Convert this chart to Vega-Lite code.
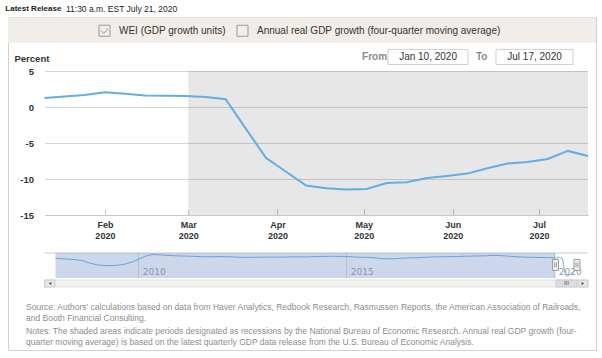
{
  "$schema": "https://vega.github.io/schema/vega-lite/v6.json",
  "autosize": {"type": "none"},
  "padding": {"left": 8, "top": 17, "right": 6, "bottom": 8},
  "width": 588,
  "height": 333,
  "background": "#ffffff",
  "config": {
    "font": "Liberation Sans",
    "view": {"stroke": "#d2d2d2", "strokeWidth": 1}
  },
  "resolve": {"scale": {"x": "independent", "y": "independent"}, "axis": {"x": "independent", "y": "independent"}},
  "layer": [
    {
      "layer": [
        {
          "data": {"values": [{}]},
          "mark": {"type": "rect", "fill": "#f1eeea"},
          "encoding": {
            "y": {"datum": 12.43, "type": "quantitative"},
            "y2": {"datum": 8.89}
          }
        },
        {
          "data": {"values": [{}]},
          "mark": {"type": "text", "align": "left", "baseline": "middle", "fontSize": 8, "fontWeight": "bold", "color": "#222"},
          "encoding": {
            "x": {"datum": {"year": 2019, "month": 12, "date": 28, "hours": 9, "utc": true}, "type": "temporal"},
            "y": {"datum": 13.61, "type": "quantitative"},
            "text": {"value": "Latest Release"}
          }
        },
        {
          "data": {"values": [{}]},
          "mark": {"type": "text", "align": "left", "baseline": "middle", "fontSize": 8.5, "color": "#222"},
          "encoding": {
            "x": {"datum": {"year": 2020, "month": 1, "date": 18, "hours": 11, "utc": true}, "type": "temporal"},
            "y": {"datum": 13.61, "type": "quantitative"},
            "text": {"value": "11:30 a.m. EST July 21, 2020"}
          }
        },
        {
          "data": {"values": []},
          "mark": {"type": "point", "opacity": 1, "strokeWidth": 1},
          "encoding": {
            "color": {
              "field": "series", "type": "nominal",
              "scale": {"domain": ["WEI (GDP growth units)", "Annual real GDP growth (four-quarter moving average)"], "range": ["#9a9a9a", "#9a9a9a"]},
              "legend": {
                "orient": "none", "legendX": 90.5, "legendY": 7.5, "direction": "horizontal", "columns": 2, "title": null,
                "symbolSize": 121, "symbolStrokeWidth": 1, "symbolFillColor": "#ffffff",
                "labelFontSize": 10, "labelColor": "#333", "labelLimit": 400,
                "labelOffset": 8.5, "columnPadding": 8, "padding": 0,
                "encode": {
                  "symbols": {
                    "update": {
                      "fill": {"value": "#ffffff"},
                      "stroke": {"value": "#9a9a9a"},
                      "strokeWidth": {"value": 1},
                      "opacity": {"value": 1}
                    }
                  }
                }
              }
            },
            "shape": {
              "field": "series", "type": "nominal",
              "scale": {"domain": ["WEI (GDP growth units)", "Annual real GDP growth (four-quarter moving average)"], "range": ["M-1,-1H1V1H-1Z M-0.6,0L-0.15,0.5L0.65,-0.45", "M-1,-1H1V1H-1Z"]},
              "legend": {
                "orient": "none", "legendX": 90.5, "legendY": 7.5, "direction": "horizontal", "columns": 2, "title": null,
                "symbolSize": 121, "symbolStrokeWidth": 1, "symbolFillColor": "#ffffff",
                "labelFontSize": 10, "labelColor": "#333", "labelLimit": 400,
                "labelOffset": 8.5, "columnPadding": 8, "padding": 0,
                "encode": {
                  "symbols": {
                    "update": {
                      "fill": {"value": "#ffffff"},
                      "stroke": {"value": "#9a9a9a"},
                      "strokeWidth": {"value": 1},
                      "opacity": {"value": 1}
                    }
                  }
                }
              }
            }
          }
        },
        {
          "data": {"values": [{}]},
          "mark": {"type": "text", "align": "left", "baseline": "middle", "fontSize": 10, "fontWeight": "bold", "color": "#8a8a8a"},
          "encoding": {
            "x": {"datum": {"year": 2020, "month": 4, "date": 30, "hours": 10, "utc": true}, "type": "temporal"},
            "y": {"datum": 6.95, "type": "quantitative"},
            "text": {"value": "From"}
          }
        },
        {
          "data": {"values": [{}]},
          "mark": {"type": "rect", "fill": "#ffffff", "stroke": "#cfcfcf", "strokeWidth": 1},
          "encoding": {
            "x": {"datum": {"year": 2020, "month": 5, "date": 9, "hours": 11, "utc": true}, "type": "temporal"},
            "x2": {"datum": {"year": 2020, "month": 6, "date": 6, "hours": 6, "utc": true}},
            "y": {"datum": 8.0, "type": "quantitative"},
            "y2": {"datum": 5.9}
          }
        },
        {
          "data": {"values": [{}]},
          "mark": {"type": "text", "align": "center", "baseline": "middle", "fontSize": 10, "color": "#333"},
          "encoding": {
            "x": {"datum": {"year": 2020, "month": 5, "date": 23, "hours": 9, "utc": true}, "type": "temporal"},
            "y": {"datum": 6.95, "type": "quantitative"},
            "text": {"value": "Jan 10, 2020"}
          }
        },
        {
          "data": {"values": [{}]},
          "mark": {"type": "text", "align": "left", "baseline": "middle", "fontSize": 10, "fontWeight": "bold", "color": "#8a8a8a"},
          "encoding": {
            "x": {"datum": {"year": 2020, "month": 6, "date": 9, "hours": 1, "utc": true}, "type": "temporal"},
            "y": {"datum": 6.95, "type": "quantitative"},
            "text": {"value": "To"}
          }
        },
        {
          "data": {"values": [{}]},
          "mark": {"type": "rect", "fill": "#ffffff", "stroke": "#cfcfcf", "strokeWidth": 1},
          "encoding": {
            "x": {"datum": {"year": 2020, "month": 6, "date": 16, "hours": 0, "utc": true}, "type": "temporal"},
            "x2": {"datum": {"year": 2020, "month": 7, "date": 12, "hours": 19, "utc": true}},
            "y": {"datum": 8.0, "type": "quantitative"},
            "y2": {"datum": 5.9}
          }
        },
        {
          "data": {"values": [{}]},
          "mark": {"type": "text", "align": "center", "baseline": "middle", "fontSize": 10, "color": "#333"},
          "encoding": {
            "x": {"datum": {"year": 2020, "month": 6, "date": 29, "hours": 10, "utc": true}, "type": "temporal"},
            "y": {"datum": 6.95, "type": "quantitative"},
            "text": {"value": "Jul 17, 2020"}
          }
        },
        {
          "data": {"values": [{"start": "2020-03-01", "end": "2020-07-18"}]},
          "mark": {"type": "rect", "fill": "#000000", "opacity": 0.095},
          "encoding": {
            "x": {"field": "start", "type": "temporal"},
            "x2": {"field": "end"},
            "y": {"datum": 5, "type": "quantitative"},
            "y2": {"datum": -15}
          }
        },
        {
          "data": {"values": [
            {"date": "2020-01-11", "value": 1.25},
            {"date": "2020-01-18", "value": 1.45},
            {"date": "2020-01-25", "value": 1.67},
            {"date": "2020-02-01", "value": 2.04},
            {"date": "2020-02-08", "value": 1.85},
            {"date": "2020-02-15", "value": 1.6},
            {"date": "2020-02-22", "value": 1.56},
            {"date": "2020-02-29", "value": 1.52},
            {"date": "2020-03-07", "value": 1.4},
            {"date": "2020-03-14", "value": 1.07},
            {"date": "2020-03-21", "value": -3.0},
            {"date": "2020-03-28", "value": -7.07},
            {"date": "2020-04-04", "value": -9.0},
            {"date": "2020-04-11", "value": -10.9},
            {"date": "2020-04-18", "value": -11.3},
            {"date": "2020-04-25", "value": -11.45},
            {"date": "2020-05-02", "value": -11.39},
            {"date": "2020-05-09", "value": -10.55},
            {"date": "2020-05-16", "value": -10.46},
            {"date": "2020-05-23", "value": -9.86},
            {"date": "2020-05-30", "value": -9.58},
            {"date": "2020-06-06", "value": -9.25},
            {"date": "2020-06-13", "value": -8.5},
            {"date": "2020-06-20", "value": -7.86},
            {"date": "2020-06-27", "value": -7.64},
            {"date": "2020-07-04", "value": -7.22},
            {"date": "2020-07-11", "value": -6.1},
            {"date": "2020-07-18", "value": -6.8}
          ]},
          "mark": {"type": "line", "strokeWidth": 2, "interpolate": "linear", "color": "#62aee2"},
          "encoding": {
            "x": {
              "field": "date", "type": "temporal",
              "scale": {"type": "utc", "nice": false, "domain": [{"year": 2020, "month": 1, "date": 11, "utc": true}, {"year": 2020, "month": 7, "date": 18, "utc": true}], "range": [36.5, 580]},
              "axis": {
                "orient": "bottom", "offset": -135, "title": null, "grid": false,
                "values": [
                  {"year": 2020, "month": 2, "date": 1, "utc": true},
                  {"year": 2020, "month": 3, "date": 1, "utc": true},
                  {"year": 2020, "month": 4, "date": 1, "utc": true},
                  {"year": 2020, "month": 5, "date": 1, "utc": true},
                  {"year": 2020, "month": 6, "date": 1, "utc": true},
                  {"year": 2020, "month": 7, "date": 1, "utc": true}
                ],
                "labelExpr": "[utcFormat(datum.value, '%b'), utcFormat(datum.value, '%Y')]",
                "domainColor": "#c8c8c8", "tickColor": "#c8c8c8", "tickSize": -6, "labelPadding": 11.5,
                "labelFontSize": 9, "labelFontWeight": "bold", "labelColor": "#333", "labelLineHeight": 11, "labelBaseline": "top"
              }
            },
            "y": {
              "field": "value", "type": "quantitative",
              "scale": {"domain": [-15, 5], "range": [198, 54], "nice": false, "zero": false},
              "axis": {
                "orient": "left", "offset": -36.5, "values": [-15, -10, -5, 0, 5],
                "labelExpr": "toString(datum.value)",
                "grid": true, "gridColor": "#d6d6d6", "domain": false, "ticks": false, "labelPadding": 11,
                "labelFontSize": 9.5, "labelFontWeight": "bold", "labelColor": "#333",
                "title": "Percent", "titleAngle": 0, "titleAlign": "left", "titleBaseline": "middle",
                "titleX": -30.5, "titleY": 41, "titleFontSize": 9.5, "titleFontWeight": "bold", "titleColor": "#333"
              }
            }
          }
        },
        {
          "data": {"values": [{}]},
          "mark": {"type": "rule", "stroke": "#cccccc", "strokeWidth": 1},
          "encoding": {
            "x": {"datum": {"year": 2020, "month": 1, "date": 11, "utc": true}, "type": "temporal"},
            "x2": {"datum": {"year": 2020, "month": 7, "date": 18, "utc": true}},
            "y": {"datum": -20.28, "type": "quantitative"}
          }
        },
        {
          "data": {"values": [{}]},
          "mark": {"type": "rect", "fill": "#f2f2f2", "stroke": "#e2e2e2", "strokeWidth": 1},
          "encoding": {
            "x": {"datum": {"year": 2020, "month": 1, "date": 11, "utc": true}, "type": "temporal"},
            "x2": {"datum": {"year": 2020, "month": 7, "date": 18, "utc": true}},
            "y": {"datum": -24.03, "type": "quantitative"},
            "y2": {"datum": -25.0}
          }
        },
        {
          "data": {"values": [{}]},
          "mark": {"type": "rect", "fill": "#e6e6e6", "stroke": "#cccccc", "strokeWidth": 1},
          "encoding": {
            "x": {"datum": {"year": 2020, "month": 1, "date": 11, "utc": true}, "type": "temporal"},
            "x2": {"datum": {"year": 2020, "month": 1, "date": 14, "hours": 15, "utc": true}},
            "y": {"datum": -24.03, "type": "quantitative"},
            "y2": {"datum": -25.0}
          }
        },
        {
          "data": {"values": [{}]},
          "mark": {"type": "rect", "fill": "#dddddd", "stroke": "#cccccc", "strokeWidth": 1},
          "encoding": {
            "x": {"datum": {"year": 2020, "month": 7, "date": 6, "hours": 21, "utc": true}, "type": "temporal"},
            "x2": {"datum": {"year": 2020, "month": 7, "date": 14, "hours": 4, "utc": true}},
            "y": {"datum": -24.03, "type": "quantitative"},
            "y2": {"datum": -25.0}
          }
        },
        {
          "data": {"values": [{}]},
          "mark": {"type": "rect", "fill": "#e6e6e6", "stroke": "#cccccc", "strokeWidth": 1},
          "encoding": {
            "x": {"datum": {"year": 2020, "month": 7, "date": 14, "hours": 12, "utc": true}, "type": "temporal"},
            "x2": {"datum": {"year": 2020, "month": 7, "date": 18, "utc": true}},
            "y": {"datum": -24.03, "type": "quantitative"},
            "y2": {"datum": -25.0}
          }
        },
        {
          "data": {"values": [{}]},
          "mark": {"type": "text", "align": "center", "baseline": "middle", "fontSize": 6, "color": "#555"},
          "encoding": {
            "x": {"datum": {"year": 2020, "month": 7, "date": 10, "hours": 12, "utc": true}, "type": "temporal"},
            "y": {"datum": -24.51, "type": "quantitative"},
            "text": {"value": "III"}
          }
        },
        {
          "data": {"values": [{}]},
          "mark": {"type": "point", "shape": "triangle-left", "filled": true, "size": 8, "color": "#444", "opacity": 1},
          "encoding": {
            "x": {"datum": {"year": 2020, "month": 1, "date": 12, "hours": 22, "utc": true}, "type": "temporal"},
            "y": {"datum": -24.51, "type": "quantitative"}
          }
        },
        {
          "data": {"values": [{}]},
          "mark": {"type": "point", "shape": "triangle-right", "filled": true, "size": 8, "color": "#444", "opacity": 1},
          "encoding": {
            "x": {"datum": {"year": 2020, "month": 7, "date": 16, "hours": 5, "utc": true}, "type": "temporal"},
            "y": {"datum": -24.51, "type": "quantitative"}
          }
        },
        {
          "data": {"values": [{}]},
          "mark": {"type": "text", "align": "left", "baseline": "top", "fontSize": 8.5, "color": "#8c8c8c", "lineHeight": 11},
          "encoding": {
            "x": {"datum": {"year": 2020, "month": 1, "date": 4, "hours": 14, "utc": true}, "type": "temporal"},
            "y": {"datum": -27.2, "type": "quantitative"},
            "text": {"value": ["Source: Authors' calculations based on data from Haver Analytics, Redbook Research, Rasmussen Reports, the American Association of Railroads,", "and Booth Financial Consulting."]}
          }
        },
        {
          "data": {"values": [{}]},
          "mark": {"type": "text", "align": "left", "baseline": "top", "fontSize": 8.5, "color": "#8c8c8c", "lineHeight": 11},
          "encoding": {
            "x": {"datum": {"year": 2020, "month": 1, "date": 4, "hours": 14, "utc": true}, "type": "temporal"},
            "y": {"datum": -30.6, "type": "quantitative"},
            "text": {"value": ["Notes: The shaded areas indicate periods designated as recessions by the National Bureau of Economic Research. Annual real GDP growth (four-", "quarter moving average) is based on the latest quarterly GDP data release from the U.S. Bureau of Economic Analysis."]}
          }
        }
      ]
    },
    {
      "layer": [
        {
          "data": {"values": [
            {"date": "2008-01-05", "value": 1.3}, {"date": "2008-03-01", "value": 1.0}, {"date": "2008-05-03", "value": 0.6},
            {"date": "2008-07-05", "value": 0.2}, {"date": "2008-09-06", "value": -0.6}, {"date": "2008-11-01", "value": -2.2},
            {"date": "2009-01-03", "value": -3.4}, {"date": "2009-03-07", "value": -3.9}, {"date": "2009-05-02", "value": -4.0},
            {"date": "2009-07-04", "value": -3.7}, {"date": "2009-09-05", "value": -2.9}, {"date": "2009-11-07", "value": -1.5},
            {"date": "2010-01-02", "value": 0.5}, {"date": "2010-03-06", "value": 2.8}, {"date": "2010-05-01", "value": 3.9},
            {"date": "2010-07-03", "value": 3.7}, {"date": "2010-09-04", "value": 3.3}, {"date": "2010-11-06", "value": 3.1},
            {"date": "2011-01-01", "value": 2.9}, {"date": "2011-03-05", "value": 2.8}, {"date": "2011-05-07", "value": 2.6},
            {"date": "2011-07-02", "value": 2.4}, {"date": "2011-09-03", "value": 2.3}, {"date": "2011-11-05", "value": 2.4},
            {"date": "2012-01-07", "value": 2.4}, {"date": "2012-03-03", "value": 2.3}, {"date": "2012-05-05", "value": 2.1},
            {"date": "2012-07-07", "value": 1.9}, {"date": "2012-09-01", "value": 1.9}, {"date": "2012-11-03", "value": 2.0},
            {"date": "2013-01-05", "value": 2.0}, {"date": "2013-03-02", "value": 2.1}, {"date": "2013-05-04", "value": 2.0},
            {"date": "2013-07-06", "value": 2.1}, {"date": "2013-09-07", "value": 2.2}, {"date": "2013-11-02", "value": 2.3},
            {"date": "2014-01-04", "value": 2.1}, {"date": "2014-03-01", "value": 2.3}, {"date": "2014-05-03", "value": 2.5},
            {"date": "2014-07-05", "value": 2.6}, {"date": "2014-09-06", "value": 2.7}, {"date": "2014-11-01", "value": 2.6},
            {"date": "2015-01-03", "value": 2.5}, {"date": "2015-03-07", "value": 2.2}, {"date": "2015-05-02", "value": 2.0},
            {"date": "2015-07-04", "value": 1.9}, {"date": "2015-09-05", "value": 1.6}, {"date": "2015-11-07", "value": 1.0},
            {"date": "2016-01-02", "value": 0.8}, {"date": "2016-03-05", "value": 1.0}, {"date": "2016-05-07", "value": 1.3},
            {"date": "2016-07-02", "value": 1.5}, {"date": "2016-09-03", "value": 1.6}, {"date": "2016-11-05", "value": 1.9},
            {"date": "2017-01-07", "value": 2.1}, {"date": "2017-03-04", "value": 2.2}, {"date": "2017-05-06", "value": 2.3},
            {"date": "2017-07-01", "value": 2.4}, {"date": "2017-09-02", "value": 2.5}, {"date": "2017-11-04", "value": 2.7},
            {"date": "2018-01-06", "value": 2.8}, {"date": "2018-03-03", "value": 2.9}, {"date": "2018-05-05", "value": 3.0},
            {"date": "2018-07-07", "value": 3.3}, {"date": "2018-09-01", "value": 3.2}, {"date": "2018-11-03", "value": 2.9},
            {"date": "2019-01-05", "value": 2.5}, {"date": "2019-03-02", "value": 2.2}, {"date": "2019-05-04", "value": 2.0},
            {"date": "2019-07-06", "value": 1.9}, {"date": "2019-09-07", "value": 1.8}, {"date": "2019-11-02", "value": 1.7},
            {"date": "2020-01-04", "value": 1.6}, {"date": "2020-01-11", "value": 1.25}, {"date": "2020-01-18", "value": 1.45},
            {"date": "2020-01-25", "value": 1.67}, {"date": "2020-02-01", "value": 2.04}, {"date": "2020-02-08", "value": 1.85},
            {"date": "2020-02-15", "value": 1.6}, {"date": "2020-02-22", "value": 1.56}, {"date": "2020-02-29", "value": 1.52},
            {"date": "2020-03-07", "value": 1.4}, {"date": "2020-03-14", "value": 1.07}, {"date": "2020-03-21", "value": -3.0},
            {"date": "2020-03-28", "value": -7.07}, {"date": "2020-04-04", "value": -9.0}, {"date": "2020-04-11", "value": -10.9},
            {"date": "2020-04-18", "value": -11.3}, {"date": "2020-04-25", "value": -11.45}, {"date": "2020-05-02", "value": -11.39},
            {"date": "2020-05-09", "value": -10.55}, {"date": "2020-05-16", "value": -10.46}, {"date": "2020-05-23", "value": -9.86},
            {"date": "2020-05-30", "value": -9.58}, {"date": "2020-06-06", "value": -9.25}, {"date": "2020-06-13", "value": -8.5},
            {"date": "2020-06-20", "value": -7.86}, {"date": "2020-06-27", "value": -7.64}, {"date": "2020-07-04", "value": -7.22},
            {"date": "2020-07-11", "value": -6.1}, {"date": "2020-07-18", "value": -6.8}
          ]},
          "mark": {"type": "line", "strokeWidth": 1, "color": "#6aaee0"},
          "encoding": {
            "x": {
              "field": "date", "type": "temporal",
              "scale": {"type": "utc", "nice": false, "domain": [{"year": 2008, "month": 1, "date": 1, "utc": true}, {"year": 2020, "month": 7, "date": 18, "utc": true}], "range": [47, 569]},
              "axis": {
                "orient": "top", "offset": -261, "title": null,
                "values": [{"year": 2010, "month": 1, "date": 1, "utc": true}, {"year": 2015, "month": 1, "date": 1, "utc": true}, {"year": 2020, "month": 1, "date": 1, "utc": true}],
                "labelExpr": "utcFormat(datum.value, '%Y')",
                "grid": true, "gridColor": "#dcdcdc", "domain": false, "ticks": false,
                "labelAlign": "left", "labelBaseline": "bottom", "labelPadding": 2, "labelOffset": 4,
                "labelColor": "#9a9a9a", "labelFont": "DejaVu Sans", "labelFontSize": 9
              }
            },
            "y": {"field": "value", "type": "quantitative", "scale": {"domain": [-12.8, 5], "range": [261, 236], "nice": false, "zero": false}, "axis": null}
          }
        },
        {
          "data": {"values": [{}]},
          "mark": {"type": "rect", "fill": "#6685c2", "opacity": 0.33},
          "encoding": {
            "x": {"datum": {"year": 2008, "month": 1, "date": 5, "utc": true}, "type": "temporal"},
            "x2": {"datum": {"year": 2020, "month": 1, "date": 11, "utc": true}},
            "y": {"datum": 5, "type": "quantitative"},
            "y2": {"datum": -12.8}
          }
        },
        {
          "data": {"values": [{}]},
          "mark": {"type": "point", "shape": "M-0.55,-1H0.55V1H-0.55Z M-0.18,-0.45V0.45 M0.18,-0.45V0.45", "size": 121, "filled": false, "fill": "#f2f2f2", "stroke": "#999999", "strokeWidth": 1, "opacity": 1},
          "encoding": {
            "x": {"datum": {"year": 2020, "month": 1, "date": 11, "utc": true}, "type": "temporal"},
            "y": {"datum": -3.5, "type": "quantitative"}
          }
        },
        {
          "data": {"values": [{}]},
          "mark": {"type": "point", "shape": "M-0.55,-1H0.55V1H-0.55Z M-0.18,-0.45V0.45 M0.18,-0.45V0.45", "size": 121, "filled": false, "fill": "#f2f2f2", "stroke": "#999999", "strokeWidth": 1, "opacity": 1},
          "encoding": {
            "x": {"datum": {"year": 2020, "month": 7, "date": 18, "utc": true}, "type": "temporal"},
            "y": {"datum": -3.5, "type": "quantitative"}
          }
        }
      ]
    }
  ]
}
